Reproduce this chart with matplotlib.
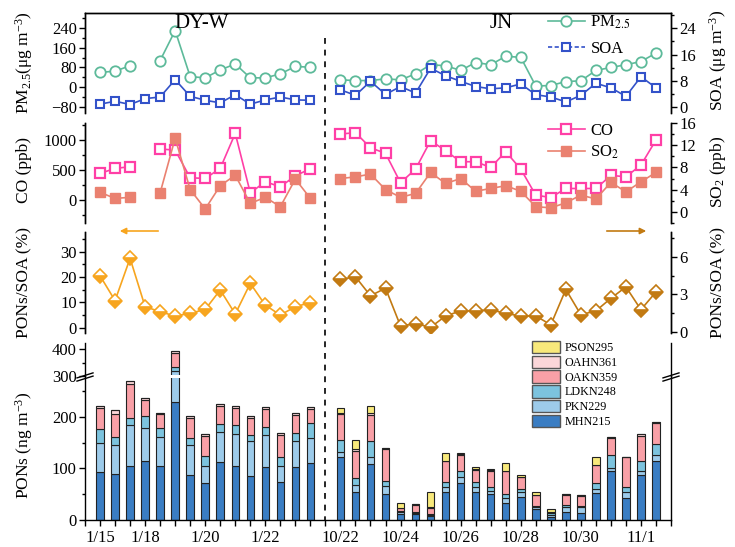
import numpy as np
import matplotlib.pyplot as plt
import matplotlib.transforms as mtransforms
from matplotlib.lines import Line2D
from matplotlib.patches import Patch, Rectangle
from matplotlib.ticker import MultipleLocator

plt.rcParams['font.family'] = ['Liberation Serif', 'DejaVu Serif']
plt.rcParams['mathtext.fontset'] = 'stix'

nan = np.nan

# -----------------------------
# Data
# -----------------------------
# DY-W: 15 samples, JN: 22 samples (a blank slot separates the two sites)
pm25_dy = [60, 65, 87, nan, 108, 229, 43, 38, 70, 94, 38, 38, 54, 84, 81]
pm25_jn = [30, 27, 27, 34, 30, 54, 91, 87, 68, 100, 91, 125, 121, 5, 7,
           23, 26, 68, 80, 91, 104, 138]
soa_dy = [0.8, 1.7, 0.7, 2.5, 3.0, 8.3, 3.2, 2.0, 1.2, 3.7, 0.8, 2.1, 3.0, 2.1, 2.0]
soa_jn = [5.2, 3.5, 7.8, 3.8, 6.2, 4.2, 11.8, 9.5, 7.8, 6.2, 5.5, 5.8, 7.0, 3.7,
          3.0, 1.5, 3.5, 7.2, 5.8, 3.2, 9.2, 5.8]

co_dy = [444, 528, 556, nan, 850, 833, 372, 361, 528, 1111, 122, 306, 222, 406, 522]
co_jn = [1100, 1122, 872, 778, 289, 517, 989, 822, 639, 639, 544, 806, 517, 83,
         44, 194, 194, 194, 411, 389, 583, 1000]
so2_dy = [3.5, 2.4, 2.6, nan, 3.4, 13.3, 4.0, 0.5, 4.7, 6.6, 1.5, 2.6, 0.9, 5.9, 2.4]
so2_jn = [6.0, 6.3, 6.8, 4.0, 2.6, 3.3, 7.1, 5.1, 6.0, 3.7, 4.2, 4.7, 3.7, 0.9,
          0.7, 1.6, 3.0, 2.3, 5.3, 3.6, 5.4, 7.1]

ratio_dy = [20.5, 10.7, 27.4, 8.3, 6.3, 4.6, 5.7, 7.2, 14.9, 5.4, 17.5, 8.9, 5.0, 8.3, 9.9]
ratio_jn = [4.2, 4.4, 2.9, 3.5, 0.5, 0.7, 0.4, 1.3, 1.7, 1.7, 1.8, 1.5, 1.3, 1.3,
            0.6, 3.4, 1.4, 1.7, 2.7, 3.6, 1.8, 3.2]

# PONs species (ng m-3), stacked bottom -> top
mhn_dy = [92, 89, 105, 115, 104, 228, 88, 72, 113, 105, 85, 103, 74, 102, 110]
pkn_dy = [58, 57, 78, 64, 57, 90, 57, 33, 58, 61, 67, 62, 31, 50, 48]
ldkn_dy = [26, 14, 15, 23, 18, 15, 14, 19, 14, 17, 13, 15, 16, 16, 29]
oakn_dy = [40, 46, 65, 30, 26, 54, 39, 39, 36, 34, 32, 35, 44, 35, 27]
oahn_dy = [5, 6, 7, 5, 3, 5, 4, 4, 3, 4, 4, 4, 4, 5, 5]
pson_dy = [0, 0, 0, 0, 0, 0, 0, 0, 0, 0, 0, 0, 0, 0, 0]

mhn_jn = [121, 55, 108, 51, 12, 12, 8, 55, 71, 54, 51, 32, 44, 21, 6, 16, 13, 52, 94, 42, 88, 114]
pkn_jn = [11, 13, 14, 15, 3, 2, 2, 8, 13, 9, 6, 11, 11, 4, 4, 10, 12, 8, 7, 12, 7, 11]
ldkn_jn = [22, 13, 30, 10, 2, 2, 1, 11, 11, 10, 6, 7, 5, 3, 3, 4, 2, 11, 24, 9, 19, 23]
oakn_jn = [51, 53, 51, 62, 6, 14, 13, 40, 31, 24, 32, 44, 23, 20, 3, 18, 20, 35, 34, 58, 49, 40]
oahn_jn = [3, 3, 5, 1, 1, 1, 1, 1, 2, 1, 1, 1, 1, 1, 0, 2, 1, 1, 2, 1, 3, 2]
pson_jn = [8, 17, 13, 0, 9, 0, 29, 15, 2, 5, 3, 15, 3, 5, 5, 0, 0, 15, 0, 0, 0, 0]

species = ['MHN215', 'PKN229', 'LDKN248', 'OAKN359', 'OAHN361', 'PSON295']
species_colors = ['#3a7dc3', '#9dcbea', '#7cc3de', '#f9a0a7', '#fbd6d9', '#f8e97b']

tick_idx = [0, 3, 7, 11, 16, 20, 24, 28, 32, 36]
tick_labels = ['1/15', '1/18', '1/20', '1/22', '10/22', '10/24', '10/26',
               '10/28', '10/30', '11/1']

# -----------------------------
# Helpers
# -----------------------------
n_dy, n_jn = len(mhn_dy), len(mhn_jn)
x_dy = np.arange(n_dy)
x_jn = np.arange(n_dy + 1, n_dy + 1 + n_jn)
x_all = np.arange(n_dy + 1 + n_jn)
gap = n_dy


def join(a, b):
    return np.r_[np.array(a, float), nan, np.array(b, float)]


W, H = 735, 547
fig = plt.figure(figsize=(W / 100, H / 100), dpi=100)


def box(top, bottom):
    return [85 / W, 1 - bottom / H, 586 / W, (bottom - top) / H]


FS = 12


def prep(ax, show_top=False, show_bottom=False):
    ax.spines['top'].set_visible(show_top)
    ax.spines['bottom'].set_visible(show_bottom)
    for s in ax.spines.values():
        s.set_linewidth(1.0)
    ax.tick_params(axis='y', which='both', direction='out', width=1.0,
                   labelsize=FS, pad=2)
    ax.tick_params(axis='y', which='major', length=4)
    ax.tick_params(axis='y', which='minor', length=2.5)
    if not show_bottom:
        ax.tick_params(axis='x', which='both', bottom=False, labelbottom=False)
    ax.set_xlim(-1, x_all[-1] + 1)
    ax.patch.set_alpha(0)


# -----------------------------
# Panel 1: PM2.5 and SOA
# -----------------------------
ax1 = fig.add_axes(box(13, 113))
ax1r = ax1.twinx()
prep(ax1, show_top=True)
prep(ax1r, show_top=True)
ax1.set_ylim(-104, 300)
ax1.yaxis.set_major_locator(MultipleLocator(80))
ax1.yaxis.set_minor_locator(MultipleLocator(40))
ax1r.set_ylim(-1.9, 28.7)
ax1r.yaxis.set_major_locator(MultipleLocator(8))
ax1r.yaxis.set_minor_locator(MultipleLocator(4))

c_pm, c_soa = '#5dba9a', '#3352c9'
ax1.plot(x_all, join(pm25_dy, pm25_jn), color=c_pm, lw=1.2, marker='o', ms=7.5,
         mfc='white', mec=c_pm, mew=1.3)
ax1r.plot(x_all, join(soa_dy, soa_jn), color=c_soa, lw=1.2, marker='s', ms=6.3,
          mfc='white', mec=c_soa, mew=1.5)

leg1 = [Line2D([], [], color=c_pm, lw=1.2, marker='o', ms=7.5, mfc='white', mec=c_pm, mew=1.3),
        Line2D([], [], color=c_soa, lw=1.2, ls=(0, (2.5, 1.5)), marker='s', ms=6.3,
               mfc='white', mec=c_soa, mew=1.5)]
ax1r.legend(leg1, ['PM$_{2.5}$', 'SOA'], loc='upper left', frameon=False,
            bbox_to_anchor=(548 / W, 1 - 14 / H), bbox_transform=fig.transFigure,
            fontsize=FS, borderpad=0, borderaxespad=0, handlelength=2.2,
            handletextpad=0.35, labelspacing=0.55)

# -----------------------------
# Panel 2: CO and SO2
# -----------------------------
ax2 = fig.add_axes(box(123, 223))
ax2r = ax2.twinx()
prep(ax2)
prep(ax2r)
ax2.set_ylim(-380, 1283)
ax2.yaxis.set_major_locator(MultipleLocator(500))
ax2.yaxis.set_minor_locator(MultipleLocator(250))
ax2r.set_ylim(-2.05, 16.05)
ax2r.yaxis.set_major_locator(MultipleLocator(4))
ax2r.yaxis.set_minor_locator(MultipleLocator(2))

c_co, c_so2 = '#ff3fa6', '#ea8170'
ax2.plot(x_all, join(co_dy, co_jn), color=c_co, lw=1.2, marker='s', ms=6.5,
         mfc='white', mec=c_co, mew=1.6)
ax2r.plot(x_all, join(so2_dy, so2_jn), color=c_so2, lw=1.2, marker='s', ms=7,
          mfc=c_so2, mec=c_so2, mew=1)

leg2 = [Line2D([], [], color=c_co, lw=1.2, marker='s', ms=6.5, mfc='white', mec=c_co, mew=1.6),
        Line2D([], [], color=c_so2, lw=1.2, marker='s', ms=7, mfc=c_so2, mec=c_so2)]
ax2r.legend(leg2, ['CO', 'SO$_2$'], loc='upper left', frameon=False,
            bbox_to_anchor=(548 / W, 1 - 123 / H), bbox_transform=fig.transFigure,
            fontsize=FS, borderpad=0, borderaxespad=0, handlelength=2.2,
            handletextpad=0.35, labelspacing=0.3)

# -----------------------------
# Panel 3: PONs/SOA
# -----------------------------
ax3 = fig.add_axes(box(232, 333))
ax3r = ax3.twinx()
prep(ax3)
prep(ax3r)
ax3.set_ylim(-2.1, 37.8)
ax3.yaxis.set_major_locator(MultipleLocator(10))
ax3.yaxis.set_minor_locator(MultipleLocator(5))
ax3r.set_ylim(-0.05, 7.95)
ax3r.yaxis.set_major_locator(MultipleLocator(3))
ax3r.yaxis.set_minor_locator(MultipleLocator(1.5))

c_dy, c_jn = '#f7a51f', '#c27a12'
ax3.plot(x_dy, ratio_dy, color=c_dy, lw=1.2, marker='D', ms=7.5, fillstyle='bottom',
         mfc=c_dy, mfcalt='white', mec=c_dy, mew=1.2)
ax3r.plot(x_jn, ratio_jn, color=c_jn, lw=1.2, marker='D', ms=7.5, fillstyle='bottom',
          mfc=c_jn, mfcalt='white', mec=c_jn, mew=1.2)

# direction arrows
fig.add_artist(plt.Annotation('', xy=(117 / W, 1 - 231 / H), xytext=(161 / W, 1 - 231 / H),
                              xycoords='figure fraction', textcoords='figure fraction',
                              arrowprops=dict(arrowstyle='-|>', color=c_dy, lw=1.2,
                                              mutation_scale=9)))
fig.add_artist(plt.Annotation('', xy=(649 / W, 1 - 231 / H), xytext=(604 / W, 1 - 231 / H),
                              xycoords='figure fraction', textcoords='figure fraction',
                              arrowprops=dict(arrowstyle='-|>', color=c_jn, lw=1.2,
                                              mutation_scale=9)))

# -----------------------------
# Panel 4: stacked PONs (broken y axis)
# -----------------------------
ax4u = fig.add_axes(box(343, 376.4))
ax4 = fig.add_axes(box(376.4, 520))
prep(ax4u)
prep(ax4, show_bottom=True)
ax4u.set_ylim(300, 422)
ax4u.yaxis.set_major_locator(MultipleLocator(100))
ax4u.yaxis.set_minor_locator(MultipleLocator(50))
ax4.set_ylim(0, 278)
ax4.yaxis.set_major_locator(MultipleLocator(100))
ax4.yaxis.set_minor_locator(MultipleLocator(50))
ax4u.spines['right'].set_visible(True)
ax4.tick_params(axis='y', which='both', right=False)

stack_dy = [mhn_dy, pkn_dy, ldkn_dy, oakn_dy, oahn_dy, pson_dy]
stack_jn = [mhn_jn, pkn_jn, ldkn_jn, oakn_jn, oahn_jn, pson_jn]
for ax in (ax4, ax4u):
    for xs, stack in ((x_dy, stack_dy), (x_jn, stack_jn)):
        bottom = np.zeros(len(xs))
        for vals, col in zip(stack, species_colors):
            vals = np.array(vals, float)
            ax.bar(xs, vals, bottom=bottom, width=0.5, color=col,
                   edgecolor='#222222', linewidth=0.8)
            bottom += vals

ax4.set_xticks(np.arange(-1, x_all[-1] + 2))
xl = [''] * len(ax4.get_xticks())
for i, lab in zip(tick_idx, tick_labels):
    xl[i + 1] = lab
ax4.set_xticklabels(xl)
ax4.tick_params(axis='x', which='major', direction='out', length=4, width=1.0,
                labelsize=FS, pad=3)
ax4.set_xlim(-1, x_all[-1] + 1)

handles = [Patch(facecolor=c, edgecolor='#555555', linewidth=1.0)
           for c in species_colors][::-1]
leg4 = ax4u.legend(handles, species[::-1], loc='upper left', frameon=False,
                   bbox_to_anchor=(532 / W, 1 - 341 / H), bbox_transform=fig.transFigure,
                   fontsize=8.7, borderpad=0, borderaxespad=0, handlelength=2.3,
                   handleheight=1.2, handletextpad=0.4, labelspacing=0.12)
leg4.set_zorder(10)
ax4u.set_zorder(3)

# white gap across the broken bar and break marks on the y axis
tr_gap = mtransforms.blended_transform_factory(ax4.transData, fig.transFigure)
fig.add_artist(Rectangle((-0.5, 1 - 378 / H), gap, 3 / H, transform=tr_gap,
                         facecolor='white', edgecolor='none', zorder=5))
for xp in (85, 671):
    for dy in (-1.6, 1.6):
        fig.add_artist(Line2D([(xp - 8) / W, (xp + 8) / W],
                              [1 - (377 + dy + 2.5) / H, 1 - (377 + dy - 2.5) / H],
                              transform=fig.transFigure, color='black', lw=1.0, zorder=6))

# site divider
tr = mtransforms.blended_transform_factory(ax4.transData, fig.transFigure)
fig.add_artist(Line2D([gap, gap], [1 - 38 / H, 1 - 520 / H], transform=tr,
                      color='black', lw=1.2, ls=(0, (3.5, 3.5)), zorder=4))

# -----------------------------
# Labels
# -----------------------------
fig.text(202 / W, 1 - 24 / H, 'DY-W', fontsize=15, ha='center', va='center')
fig.text(501 / W, 1 - 23 / H, 'JN', fontsize=15, ha='center', va='center')

left_labels = [(63, 'PM$\\mathregular{_{2.5}}$(μg m$\\mathregular{^{-3}}$)'),
               (170, 'CO (ppb)'),
               (283, 'PONs/SOA (%)'),
               (445, 'PONs (ng m$\\mathregular{^{-3}}$)')]
for yc, txt in left_labels:
    fig.text(24 / W, 1 - yc / H, txt, fontsize=FS + 0.5, rotation=90,
             ha='center', va='center')

right_labels = [(60, 'SOA (μg m$\\mathregular{^{-3}}$)'),
                (172, 'SO$\\mathregular{_2}$ (ppb)'),
                (283, 'PONs/SOA (%)')]
for yc, txt in right_labels:
    fig.text(718 / W, 1 - yc / H, txt, fontsize=FS + 0.5, rotation=90,
             ha='center', va='center')

plt.savefig('out.png', dpi=100)
